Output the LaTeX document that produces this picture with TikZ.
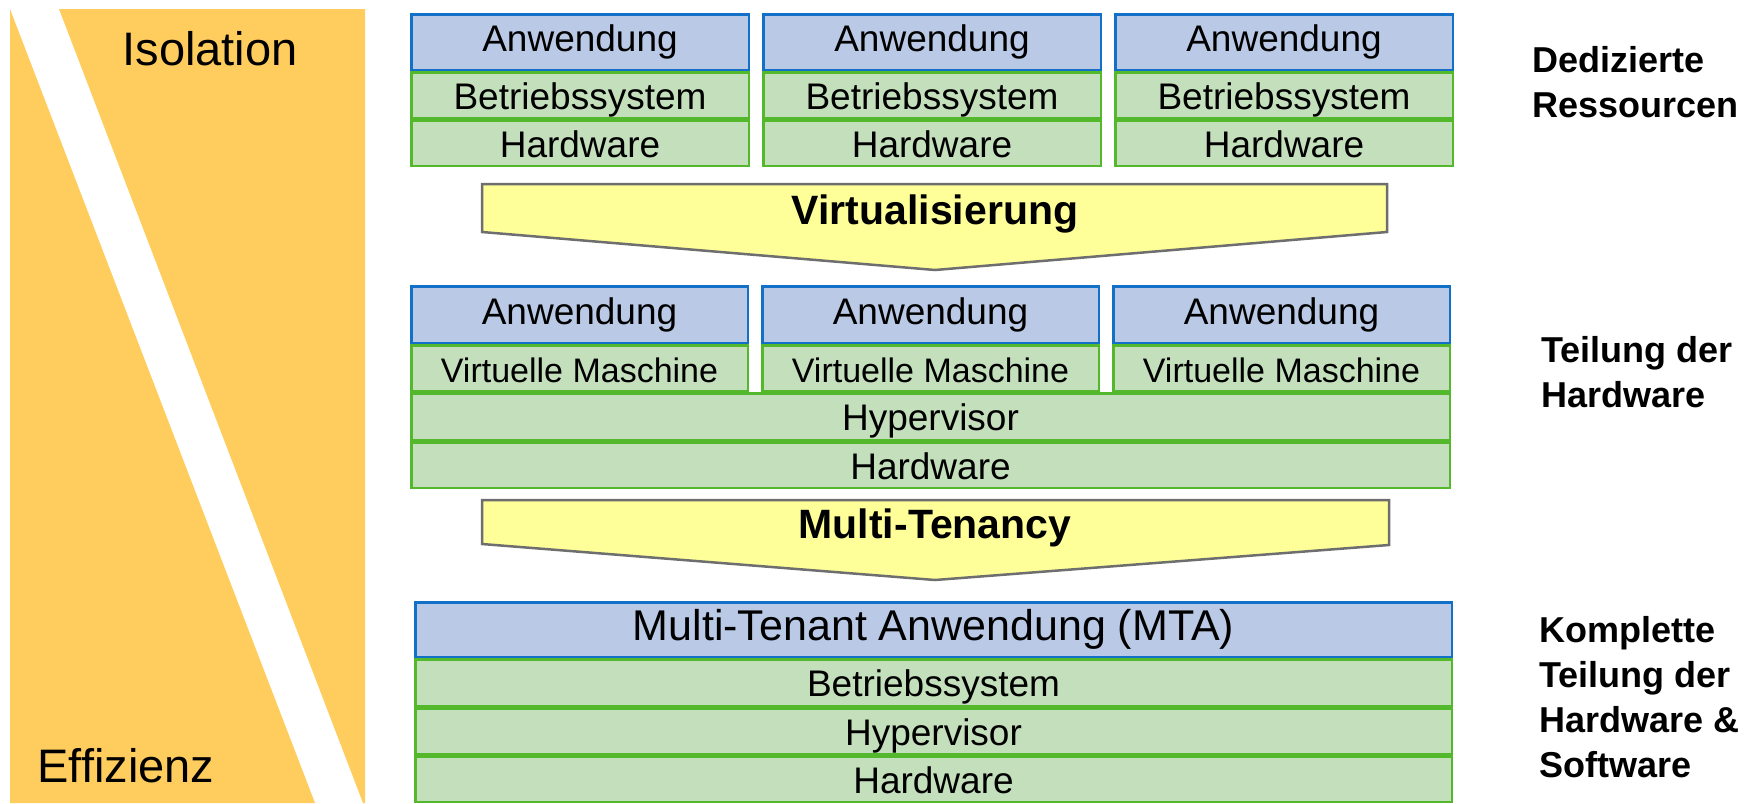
\documentclass[tikz,border=0pt]{standalone}
\usepackage{fontspec}
\setmainfont{Liberation Sans}
\usetikzlibrary{positioning}

\definecolor{isoorange}{HTML}{FFCD5E}
\definecolor{appblue}{HTML}{B9C9E6}
\definecolor{appborder}{HTML}{1271C6}
\definecolor{layergreen}{HTML}{C3DFBB}
\definecolor{layerborder}{HTML}{53B82C}
\definecolor{shiftyellow}{HTML}{FFFF99}
\definecolor{shiftborder}{HTML}{6E6E6E}

\tikzset{
  app/.style={draw=appborder,fill=appblue,line width=2.5pt,inner sep=0pt,
    font=\fontsize{37}{44}\selectfont},
  layer/.style={draw=layerborder,fill=layergreen,line width=2.5pt,inner sep=0pt,
    text height=28pt,text depth=0pt,font=\fontsize{37}{44}\selectfont},
  shiftbox/.style={draw=shiftborder,fill=shiftyellow,line width=2.5pt,line join=miter},
  shiftlabel/.style={inner sep=0pt,font=\bfseries\fontsize{41}{48}\selectfont},
  sidelabel/.style={inner sep=0pt,align=left,font=\bfseries\fontsize{36}{45}\selectfont},
  axislabel/.style={inner sep=0pt,font=\fontsize{47}{56}\selectfont}
}

\begin{document}
\begin{tikzpicture}[x=1pt,y=-1pt]
\useasboundingbox (0,0) rectangle (1760,803);

% Isolation vs. Effizienz
\fill[isoorange] (10,9) -- (315,803) -- (10,803) -- cycle;
\fill[isoorange] (59,9) -- (365,9) -- (365,803) -- (363,803) -- cycle;
\node[axislabel,anchor=base] (iso) at (210,65) {Isolation};
\node[axislabel,anchor=base] (eff) at (126,782) {Effizienz};

% dedicated stacks
\foreach \i/\x in {1/580,2/932,3/1284} {
    \node[app,minimum width=337.5pt,minimum height=55.5pt,anchor=north] (app\i) at (\x,13) {Anwendung};
    \node[layer,minimum width=337.5pt,minimum height=45.5pt,below=0pt of app\i] (os\i) {Betriebssystem};
    \node[layer,minimum width=337.5pt,minimum height=45.5pt,below=0pt of os\i] (hw\i) {Hardware};
}
\node[sidelabel,anchor=north west] (ded) at (1532,46) {Dedizierte\\Ressourcen};

\draw[shiftbox] (482,184) -- (1387,184) -- (1387,232) -- (935,270) -- (482,232) -- cycle;
\node[shiftlabel,anchor=base] (virt) at (935,224) {Virtualisierung};

% shared hardware
\foreach \i/\x in {1/579.5,2/930.5,3/1281.5} {
    \node[app,minimum width=336.5pt,minimum height=56.5pt,anchor=north] (vapp\i) at (\x,285) {Anwendung};
    \node[layer,minimum width=336.5pt,minimum height=45.5pt,below=0pt of vapp\i,
      font=\fontsize{34}{40}\selectfont] (vm\i) {Virtuelle Maschine};
}
\node[layer,minimum width=1038.5pt,minimum height=46.5pt,below=0pt of vm2] (hyp) {Hypervisor};
\node[layer,minimum width=1038.5pt,minimum height=45.5pt,below=0pt of hyp] (vhw) {Hardware};
\node[sidelabel,anchor=north west] (teil) at (1541,336) {Teilung der\\Hardware};

\draw[shiftbox] (482,500) -- (1389,500) -- (1389,545) -- (935,580) -- (482,544) -- cycle;
\node[shiftlabel,anchor=base] (mten) at (935,538) {Multi-Tenancy};

% shared hardware and software
\node[app,minimum width=1036.5pt,minimum height=54.5pt,anchor=north,
  font=\fontsize{43}{50}\selectfont] (mta) at (933.5,601) {Multi-Tenant Anwendung (MTA)};
\node[layer,minimum width=1036.5pt,minimum height=46.5pt,below=0pt of mta] (mos) {Betriebssystem};
\node[layer,minimum width=1036.5pt,minimum height=45.5pt,below=0pt of mos] (mhyp) {Hypervisor};
\node[layer,minimum width=1036.5pt,minimum height=45.5pt,below=0pt of mhyp] (mhw) {Hardware};
\node[sidelabel,anchor=north west] (kompl) at (1539,616) {Komplette\\Teilung der\\Hardware \&\\Software};
\end{tikzpicture}
\end{document}
